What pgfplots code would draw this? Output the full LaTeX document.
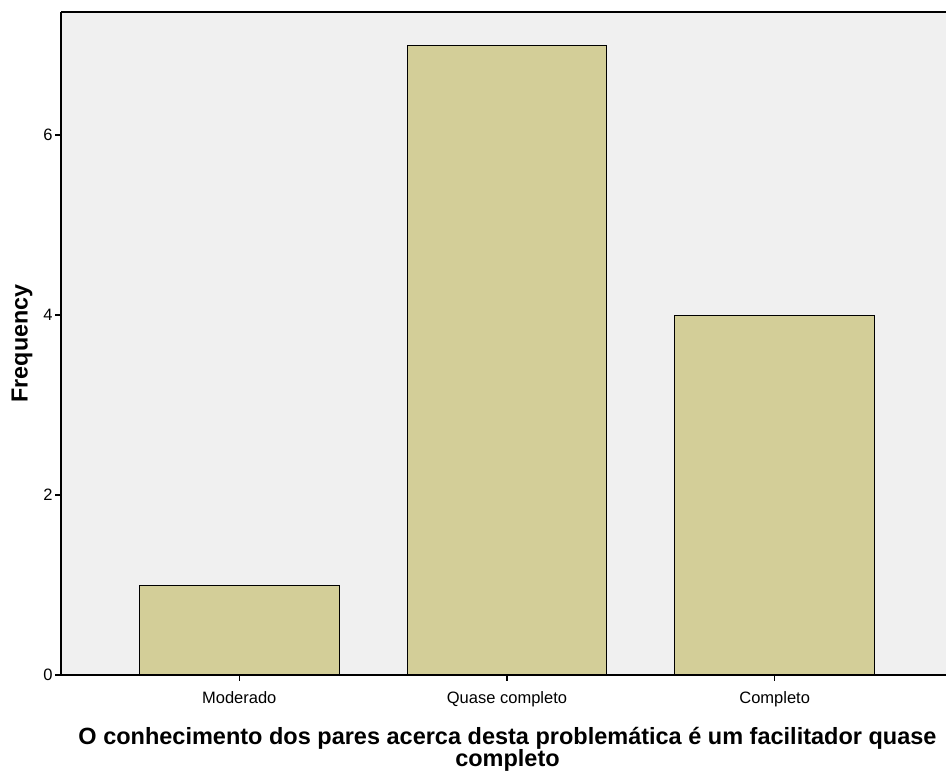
\documentclass[border=0pt]{standalone}
\usepackage{pgfplots}
\pgfplotsset{compat=1.18}
\usepackage{fontspec}
\setmainfont{Liberation Sans}
\definecolor{bg}{HTML}{F0F0F0}
\definecolor{barc}{HTML}{D3CE98}
\begin{document}
\begin{tikzpicture}[x=1pt,y=1pt]
\useasboundingbox (0,0) rectangle (946,771);
\begin{axis}[
  at={(61pt,96pt)}, anchor=south west,
  scale only axis, width=885pt, height=663pt,
  xmin=-0.666, xmax=2.64, ymin=0, ymax=7.367,
  axis x line*=bottom, axis y line*=left,
  axis line style={line width=1.2pt, -},
  axis background/.style={fill=bg},
  xtick={0,1,2}, xticklabels={Moderado,Quase completo,Completo},
  ytick={0,2,4,6},
  tick align=outside, major tick length=6pt,
  tick style={line width=1.2pt, black},
  /pgf/number format/assume math mode=true,
  ticklabel style={font=\fontsize{16.5}{18}\selectfont},
  xticklabel style={yshift=-7pt},
  yticklabel style={xshift=1pt},
  ylabel={\textbf{Frequency}},
  ylabel style={font=\fontsize{23.3}{26}\selectfont, at={(rel axis cs:0,0.5)}, anchor=center, yshift=39pt},
  xlabel={\textbf{O conhecimento dos pares acerca desta problemática é um facilitador quase}\\\textbf{completo}},
  xlabel style={font=\fontsize{23.5}{22}\selectfont, align=center, yshift=-13pt, xshift=4pt},
  clip=false,
]
\addplot[ybar, bar width=0.746, fill=barc, draw=black, line width=1pt] coordinates {(0,1) (1,7) (2,4)};
\draw[line width=1.2pt] (rel axis cs:0,1) -- (rel axis cs:1,1);
\end{axis}
\end{tikzpicture}
\end{document}
